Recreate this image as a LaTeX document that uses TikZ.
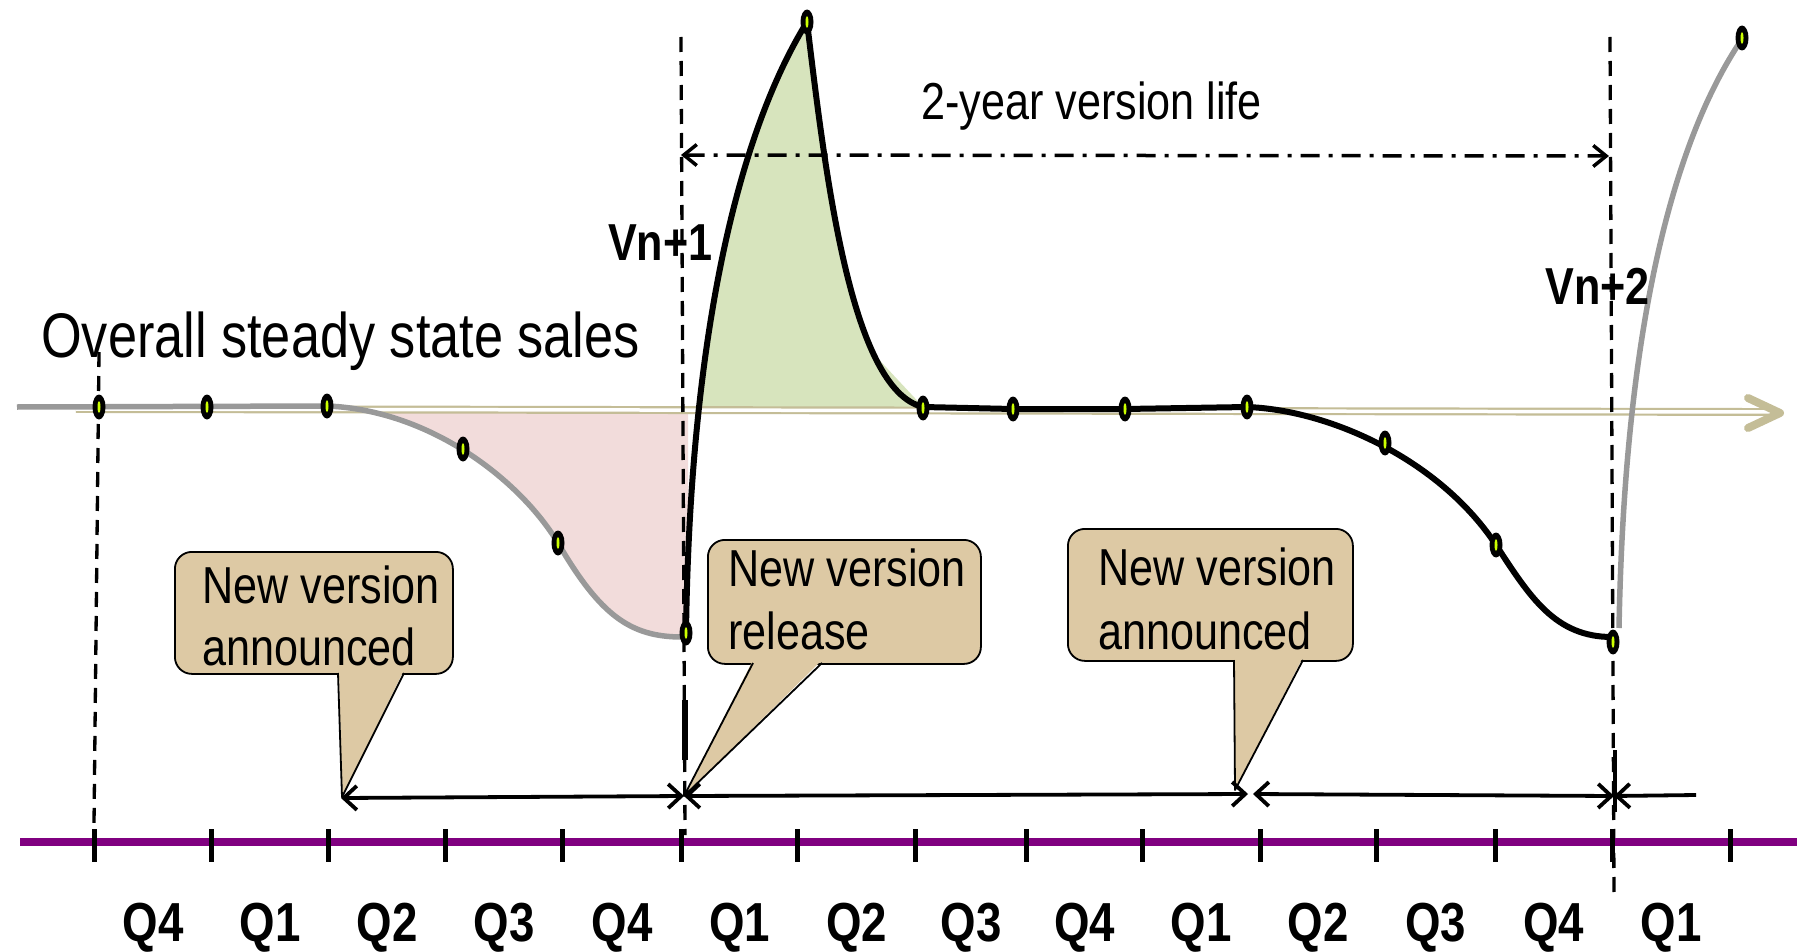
\documentclass[tikz,border=0pt]{standalone}
\usepackage{fontspec}
\setmainfont{Liberation Sans}[FakeStretch=0.83]
\usetikzlibrary{arrows.meta,shapes.geometric}

\definecolor{calltan}{RGB}{221,201,164}
\definecolor{linetan}{RGB}{196,189,151}
\definecolor{lossfill}{RGB}{242,220,219}
\definecolor{gainfill}{RGB}{215,228,189}
\definecolor{curvegray}{RGB}{153,153,153}
\definecolor{axispurple}{RGB}{128,0,128}
\definecolor{dotgreen}{RGB}{204,255,0}

\newcommand\fsbig{\fontsize{63}{72}\selectfont}
\newcommand\fsmid{\fontsize{52}{62}\selectfont}
\newcommand\fsq{\fontsize{55}{64}\selectfont\bfseries}

\begin{document}
\begin{tikzpicture}[x=1pt,y=-1pt,line join=round,
  dotmark/.style={ellipse, fill=black, minimum width=13pt, minimum height=25pt, inner sep=0pt,
    path picture={\fill[dotgreen] (path picture bounding box.center) ellipse [x radius=1.5pt, y radius=6pt];}},
  vguide/.style={line width=3.3pt, dash pattern=on 15pt off 9pt},
  oldcurve/.style={curvegray, line width=5.5pt},
  newcurve/.style={black, line width=6pt},
  callbox/.style={draw=black, fill=calltan, line width=1.8pt, rounded corners=17pt, inner sep=0pt, anchor=north west},
  calltext/.style={anchor=base west, inner sep=0pt, font=\fsmid},
  timespan/.style={line width=3.8pt, {Straight Barb[length=13pt,width=24pt]}-{Straight Barb[length=13pt,width=24pt]}},
  lifespan/.style={line width=3.5pt, dash pattern=on 19pt off 9pt on 4pt off 9pt,
    {Straight Barb[length=13pt,width=21pt]}-{Straight Barb[length=13pt,width=21pt]}},
  qlabel/.style={anchor=base, inner sep=0pt, font=\fsq}
]
\useasboundingbox (0,0) rectangle (1806,952);
\fill[white] (0,0) rectangle (1806,952);

% sales lost while the next version is awaited
\fill[lossfill] (327,406) .. controls (430,410) and (520,480) .. (558,543)
  .. controls (600,615) and (630,637) .. (682,637)
  -- (688,633) -- (688,410) -- cycle;

% launch peak above the steady level
\begin{scope}
  \clip (600,0) rectangle (1000,409);
  \fill[gainfill] (686,633) .. controls (690,330) and (740,130) .. (807,22)
    .. controls (825,170) and (850,390) .. (923,407)
    -- cycle;
  \fill[gainfill] (870,350) -- (925,409) -- (880,409) -- cycle;
\end{scope}

% steady state level
\coordinate (ss0) at (76,409);
\coordinate (ss1) at (1772,412);
\coordinate (sstip) at (1780,413);
\draw[linetan, line width=2.2pt, double=white, double distance=3.5pt] (ss0) -- (ss1);
\draw[linetan, line width=8pt, line cap=round] (1748,398) -- (sstip) -- (1748,428);

% sales curves
\draw[oldcurve] (17,407) -- (327,406) .. controls (430,410) and (520,480) .. (558,543)
  .. controls (600,615) and (630,637) .. (682,637);
\draw[newcurve] (686,633) .. controls (690,330) and (740,130) .. (807,22)
  .. controls (825,170) and (850,390) .. (923,407)
  -- (1013,409) -- (1125,409) -- (1247,407)
  .. controls (1330,410) and (1440,460) .. (1496,545)
  .. controls (1530,597) and (1555,637) .. (1612,637);
\draw[oldcurve] (1619,628) .. controls (1624,355) and (1665,155) .. (1740,42);

% version boundaries
\draw[vguide] (99,352) -- (94,825);
\draw[vguide] (681,37) -- (685,835);
\draw[vguide] (1610,37) -- (1614,895);
\draw[line width=6pt] (685,700) -- (685,760);

% data points
\foreach \p [count=\k] in {(99,407),(207,407),(327,406),(463,449),(558,543),(686,633),(807,22),(923,408),(1013,409),(1125,409),(1247,407),(1385,443),(1496,545),(1613,642),(1742,38)}
  \node[dotmark] (m\k) at \p {};

% version life span
\coordinate (life0) at (681,155);
\coordinate (life1) at (1609,156);
\draw[lifespan] (life0) -- (life1);
\node[anchor=base west, inner sep=0pt, font=\fsmid] (lifelabel) at (921,120) {2-year version life};

% titles
\node[anchor=base west, inner sep=0pt, font=\fsbig] (steady) at (41,357) {Overall steady state sales};
\node[anchor=base west, inner sep=0pt, font=\fsmid\bfseries] (vn1) at (608,260) {Vn+1};
\node[anchor=base west, inner sep=0pt, font=\fsmid\bfseries] (vn2) at (1545,304) {Vn+2};

% callouts
\coordinate (t1) at (341,798);
\coordinate (t2) at (684,796);
\coordinate (t3) at (1235,790);
\node[callbox, minimum width=278pt, minimum height=122pt] (c1) at (174,551) {};
\fill[calltan] (339,670) -- (404,670) -- (342,797) -- cycle;
\draw[line width=1.8pt] (338,673) -- (342,797) -- (404,673);
\node[calltext] (c1a) at (202,603) {New version};
\node[calltext] (c1b) at (202,665) {announced};

\node[callbox, minimum width=273pt, minimum height=124pt] (c2) at (707,539) {};
\fill[calltan] (753,660) -- (822,660) -- (t2) -- cycle;
\draw[line width=1.8pt] (753,663) -- (t2) -- (822,663);
\node[calltext] (c2a) at (728,586) {New version};
\node[calltext] (c2b) at (728,649) {release};

\node[callbox, minimum width=285pt, minimum height=132pt] (c3) at (1067,528) {};
\fill[calltan] (1235,657) -- (1303,657) -- (t3) -- cycle;
\draw[line width=1.8pt] (1234,660) -- (t3) -- (1303,660);
\node[calltext] (c3a) at (1098,585) {New version};
\node[calltext] (c3b) at (1098,649) {announced};

% intervals between announcements and releases
\coordinate (s1) at (1248,794);
\coordinate (s2) at (1253,794);
\coordinate (s3) at (1614,796);
\coordinate (s4) at (1696,795);
\draw[timespan] (t1) -- (t2);
\draw[timespan] (t2) -- (s1);
\draw[timespan] (s2) -- (s3);
\draw[line width=3.8pt, {Straight Barb[length=13pt,width=24pt]}-] (s3) -- (s4);
\draw[line width=4pt] (1615,750) -- (1615,812);

% quarter axis
\draw[axispurple, line width=8pt] (20,842) -- (1797,842);
\foreach \x in {94.7,211.8,328.9,445.5,562.6,681.4,797.9,915.6,1026.5,1142.7,1260,1376.7,1495.1,1612.4,1730.3}
  \draw[line width=5pt] (\x,829) -- (\x,862);
\foreach \q/\x [count=\k] in {Q4/153.2,Q1/270.3,Q2/387.2,Q3/504.0,Q4/622.0,Q1/739.6,Q2/856.7,Q3/971.0,Q4/1084.6,Q1/1201.3,Q2/1318.3,Q3/1435.9,Q4/1553.7,Q1/1671.3}
  \node[qlabel] (q\k) at (\x,941) {\q};
\end{tikzpicture}
\end{document}
